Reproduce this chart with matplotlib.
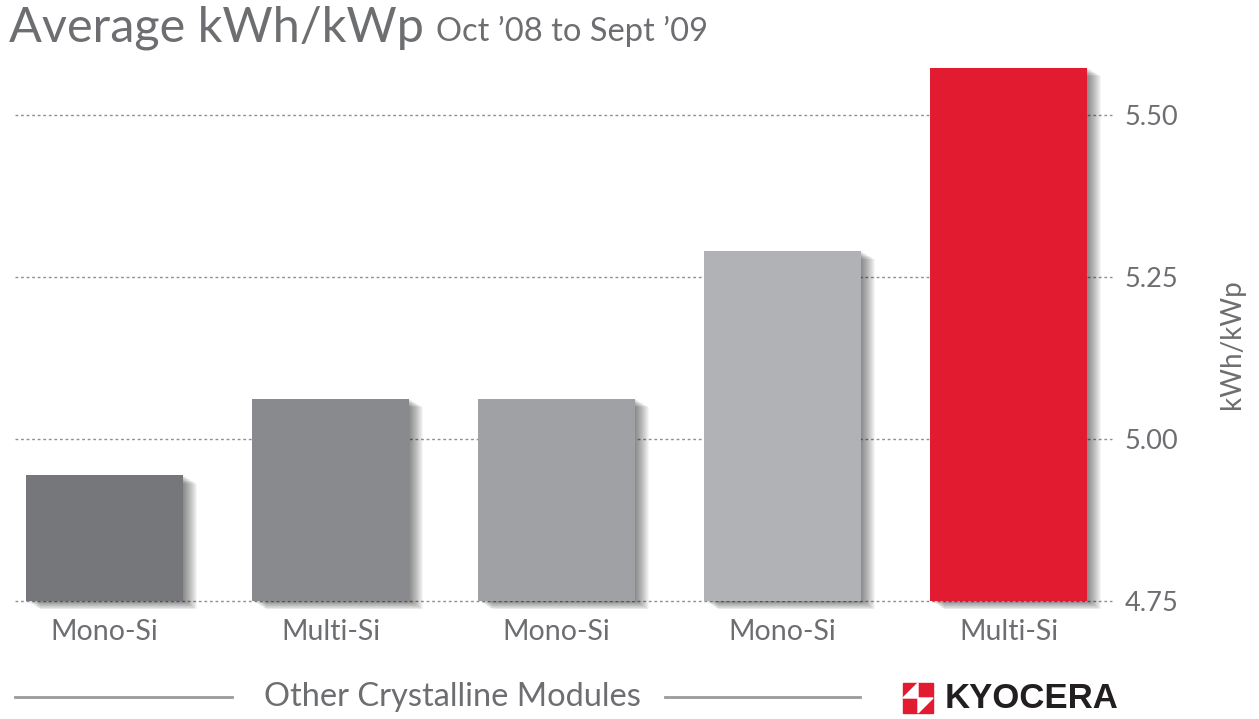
import numpy as np
import matplotlib
matplotlib.use("Agg")
import matplotlib.pyplot as plt
import matplotlib.patheffects as pe
from matplotlib.patches import Rectangle, Polygon

# данные графика
categories = ["Mono-Si", "Multi-Si", "Mono-Si", "Mono-Si", "Multi-Si"]
values = [4.944, 5.062, 5.062, 5.290, 5.573]
colors = ["#76777b", "#898a8e", "#a0a1a5", "#b1b2b6", "#e31b31"]
yticks = [4.75, 5.00, 5.25, 5.50]
ytick_labels = ["4.75", "5.00", "5.25", "5.50"]

txt = "#6d6e71"
plt.rcParams['font.family'] = ['Lato', 'DejaVu Sans']

W, H = 1259, 719
fig = plt.figure(figsize=(W / 100, H / 100), dpi=100)
ax = fig.add_axes([15 / W, (H - 601) / H, (1112 - 15) / W, (601 - 50) / H])

base = 4.75
x = np.arange(len(values))
# мягкая тень под столбцами
shadow = [pe.SimplePatchShadow(offset=(d, -d * 0.6), shadow_rgbFace="k", alpha=0.04)
          for d in np.linspace(0.5, 10, 14)]
bars = ax.bar(x, np.array(values) - base, bottom=base, width=0.695, color=colors,
              zorder=3, clip_on=False)
for b in bars:
    b.set_path_effects(shadow + [pe.Normal()])

for yt in yticks:
    ax.axhline(yt, color="#8f8f8f", lw=1.0, ls=(0, (2, 2)), zorder=1, clip_on=False)

ax.set_xlim((15 - 104.5) / 226, (1112 - 104.5) / 226)
ax.set_ylim(base, 5.6)
ax.yaxis.tick_right()
ax.set_yticks(yticks)
ax.set_yticklabels(ytick_labels, fontsize=19.5, color=txt)
ax.set_xticks(x)
ax.set_xticklabels(categories, fontsize=20.5, color=txt)
ax.tick_params(length=0)
ax.tick_params(axis="y", pad=9)
ax.tick_params(axis="x", pad=13)
for s in ax.spines.values():
    s.set_visible(False)

fig.text(1232 / W, 1 - 344 / H, "kWh/kWp", rotation=90, ha="center", va="center",
         fontsize=20, color=txt)

# заголовок
t1 = fig.text(9 / W, 1 - 41 / H, "Average kWh/kWp", fontsize=35, color=txt, va="baseline")
fig.canvas.draw()
bb = t1.get_window_extent()
fig.text((bb.x1 + 12) / W, 1 - 41 / H, "Oct \u201908 to Sept \u201909", fontsize=23.5,
         color=txt, va="baseline")

# нижняя подпись
fig.text(452 / W, 1 - 697 / H, "Other Crystalline Modules", fontsize=23.5, color=txt,
         ha="center", va="center")
fig.add_artist(plt.Line2D([15 / W, 232 / W], [1 - 697 / H] * 2, color="#9a9a9a", lw=2))
fig.add_artist(plt.Line2D([665 / W, 860 / W], [1 - 697 / H] * 2, color="#9a9a9a", lw=2))

# логотип
x0, y0, s = 903, 683, 30
fig.add_artist(Rectangle((x0 / W, 1 - (y0 + s) / H), s / W, s / H, color="#e31b31",
                         transform=fig.transFigure))
def pt(px, py):
    return ((x0 + px * s) / W, 1 - (y0 + py * s) / H)
for tri in [[(0.5, 0.0), (0.25, 0.25), (0.5, 0.5)],
            [(0.0, 0.5), (0.25, 0.25), (0.5, 0.5)],
            [(0.5, 1.0), (0.75, 0.75), (0.5, 0.5)],
            [(1.0, 0.5), (0.75, 0.75), (0.5, 0.5)]]:
    fig.add_artist(Polygon([pt(*p) for p in tri], closed=True, color="white",
                           transform=fig.transFigure))
fig.text(945 / W, 1 - 698 / H, "KYOCERA", fontsize=25, fontweight="bold", color="#231f20",
         va="center", ha="left", family=["Liberation Sans", "DejaVu Sans"])

fig.savefig("out.png", dpi=100)
